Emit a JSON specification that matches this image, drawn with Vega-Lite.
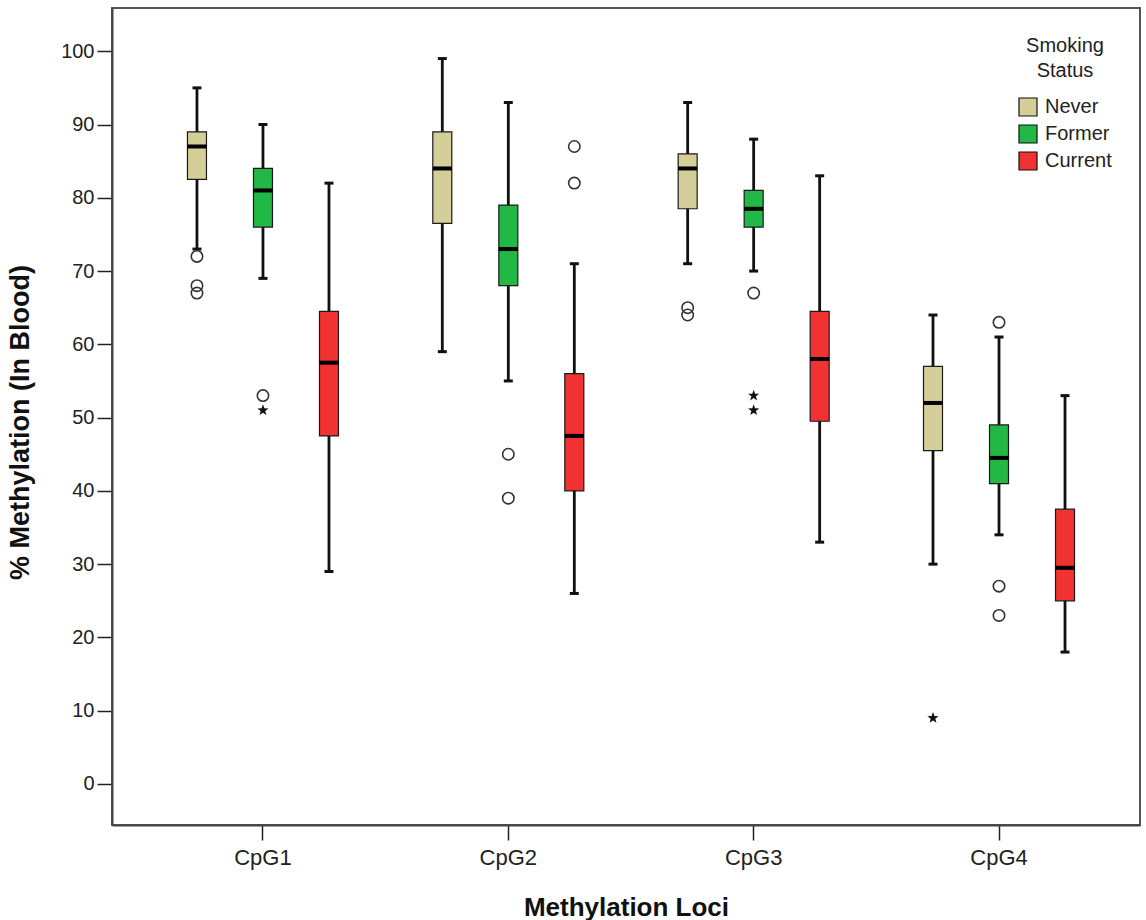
{
  "$schema": "https://vega.github.io/schema/vega-lite/v6.json",
  "autosize": {"type": "none"},
  "width": 1028,
  "height": 817,
  "padding": {"left": 112, "top": 8, "right": 6, "bottom": 95},
  "background": "white",
  "config": {
    "view": {"stroke": "#555", "strokeWidth": 2},
    "axis": {"grid": false, "domainColor": "#444", "domainWidth": 2, "tickColor": "#222", "tickWidth": 1.5, "labelColor": "#222", "titleColor": "#111", "labelFont": "Liberation Sans", "titleFont": "Liberation Sans"},
    "legend": {"labelFont": "Liberation Sans", "titleFont": "Liberation Sans"}
  },
  "datasets": {
    "boxes": [
      {"loc": "CpG1", "status": "Never", "lo": 73, "q1": 82.5, "med": 87, "q3": 89, "hi": 95},
      {"loc": "CpG1", "status": "Former", "lo": 69, "q1": 76, "med": 81, "q3": 84, "hi": 90},
      {"loc": "CpG1", "status": "Current", "lo": 29, "q1": 47.5, "med": 57.5, "q3": 64.5, "hi": 82},
      {"loc": "CpG2", "status": "Never", "lo": 59, "q1": 76.5, "med": 84, "q3": 89, "hi": 99},
      {"loc": "CpG2", "status": "Former", "lo": 55, "q1": 68, "med": 73, "q3": 79, "hi": 93},
      {"loc": "CpG2", "status": "Current", "lo": 26, "q1": 40, "med": 47.5, "q3": 56, "hi": 71},
      {"loc": "CpG3", "status": "Never", "lo": 71, "q1": 78.5, "med": 84, "q3": 86, "hi": 93},
      {"loc": "CpG3", "status": "Former", "lo": 70, "q1": 76, "med": 78.5, "q3": 81, "hi": 88},
      {"loc": "CpG3", "status": "Current", "lo": 33, "q1": 49.5, "med": 58, "q3": 64.5, "hi": 83},
      {"loc": "CpG4", "status": "Never", "lo": 30, "q1": 45.5, "med": 52, "q3": 57, "hi": 64},
      {"loc": "CpG4", "status": "Former", "lo": 34, "q1": 41, "med": 44.5, "q3": 49, "hi": 61},
      {"loc": "CpG4", "status": "Current", "lo": 18, "q1": 25, "med": 29.5, "q3": 37.5, "hi": 53}
    ],
    "circles": [
      {"loc": "CpG1", "status": "Never", "v": 72},
      {"loc": "CpG1", "status": "Never", "v": 68},
      {"loc": "CpG1", "status": "Never", "v": 67},
      {"loc": "CpG1", "status": "Former", "v": 53},
      {"loc": "CpG2", "status": "Former", "v": 45},
      {"loc": "CpG2", "status": "Former", "v": 39},
      {"loc": "CpG2", "status": "Current", "v": 87},
      {"loc": "CpG2", "status": "Current", "v": 82},
      {"loc": "CpG3", "status": "Never", "v": 65},
      {"loc": "CpG3", "status": "Never", "v": 64},
      {"loc": "CpG3", "status": "Former", "v": 67},
      {"loc": "CpG4", "status": "Former", "v": 63},
      {"loc": "CpG4", "status": "Former", "v": 27},
      {"loc": "CpG4", "status": "Former", "v": 23}
    ],
    "stars": [
      {"loc": "CpG1", "status": "Former", "v": 51},
      {"loc": "CpG3", "status": "Former", "v": 53},
      {"loc": "CpG3", "status": "Former", "v": 51},
      {"loc": "CpG4", "status": "Never", "v": 9}
    ]
  },
  "encoding": {
    "x": {
      "field": "loc", "type": "nominal",
      "scale": {"paddingInner": 0, "paddingOuter": 0.095, "align": 0.607},
      "axis": {"title": "Methylation Loci", "labelAngle": 0, "tickSize": 15, "labelFontSize": 22, "labelPadding": 7, "titleFontSize": 26, "titleFontWeight": "bold", "titleY": 82, "titleBaseline": "middle"}
    },
    "xOffset": {
      "field": "status", "type": "nominal", "sort": ["Never", "Former", "Current"],
      "scale": {"domain": ["Never", "Former", "Current"], "paddingInner": 0, "paddingOuter": 0.3586}
    }
  },
  "layer": [
    {
      "data": {"name": "boxes"},
      "mark": {"type": "rule", "color": "#111", "strokeWidth": 2.8},
      "encoding": {
        "y": {"field": "lo", "type": "quantitative",
          "scale": {"domain": [-5.6, 105.9], "nice": false, "zero": false},
          "axis": {"values": [0, 10, 20, 30, 40, 50, 60, 70, 80, 90, 100], "tickSize": 15, "labelFontSize": 20, "labelPadding": 3, "title": "% Methylation (In Blood)", "titleFontSize": 27, "titleFontWeight": "bold", "titleX": -92, "titleY": 414, "titleAngle": -90, "titleBaseline": "middle", "titleAlign": "center"}},
        "y2": {"field": "hi"}
      }
    },
    {
      "data": {"name": "boxes"},
      "mark": {"type": "tick", "color": "#111", "thickness": 3, "size": 9, "opacity": 1},
      "encoding": {"y": {"field": "lo", "type": "quantitative"}}
    },
    {
      "data": {"name": "boxes"},
      "mark": {"type": "tick", "color": "#111", "thickness": 3, "size": 9, "opacity": 1},
      "encoding": {"y": {"field": "hi", "type": "quantitative"}}
    },
    {
      "data": {"name": "boxes"},
      "mark": {"type": "bar", "size": 19, "stroke": "#1a1a1a", "strokeWidth": 1.2, "opacity": 1},
      "encoding": {
        "y": {"field": "q1", "type": "quantitative"},
        "y2": {"field": "q3"},
        "color": {"field": "status", "type": "nominal",
          "scale": {"domain": ["Never", "Former", "Current"], "range": ["#d4cf98", "#22b845", "#f13232"]},
          "legend": {"orient": "none", "legendX": 906, "legendY": 28, "title": ["Smoking", "Status"], "titleFontSize": 20, "titleFontWeight": "normal", "titleColor": "#222", "titleAlign": "center", "titleAnchor": "middle", "titleLineHeight": 25, "titlePadding": 16, "labelFontSize": 20, "labelColor": "#222", "labelOffset": 7, "symbolType": "square", "symbolSize": 324, "symbolStrokeColor": "#111", "symbolStrokeWidth": 1.2, "symbolOpacity": 1, "rowPadding": 3}}
      }
    },
    {
      "data": {"name": "boxes"},
      "mark": {"type": "tick", "color": "#000", "thickness": 4, "size": 19, "opacity": 1},
      "encoding": {"y": {"field": "med", "type": "quantitative"}}
    },
    {
      "data": {"name": "circles"},
      "mark": {"type": "point", "shape": "circle", "filled": false, "stroke": "#333", "strokeWidth": 1.6, "size": 130, "opacity": 1},
      "encoding": {"y": {"field": "v", "type": "quantitative"}}
    },
    {
      "data": {"name": "stars"},
      "mark": {"type": "point", "shape": "M0,-1L0.235,-0.324L0.951,-0.309L0.380,0.124L0.588,0.809L0,0.4L-0.588,0.809L-0.380,0.124L-0.951,-0.309L-0.235,-0.324Z", "filled": true, "color": "#111", "size": 140, "opacity": 1},
      "encoding": {"y": {"field": "v", "type": "quantitative"}}
    }
  ]
}
